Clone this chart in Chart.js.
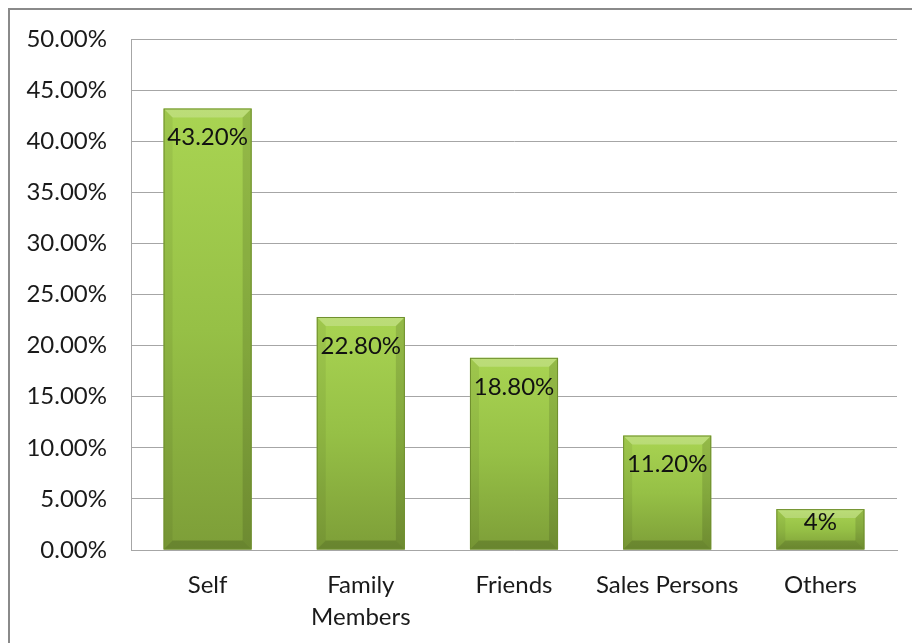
<!DOCTYPE html>
<html>
<head>
<meta charset="utf-8">
<script src="https://cdn.jsdelivr.net/npm/chart.js@4/dist/chart.umd.min.js"></script>
<style>
  body { margin: 0; background: #fff; }
  #frame { position: absolute; left: 8px; top: 8px; width: 930px; height: 660px; border: 2px solid #8a8a8a; }
  #wrap { position: absolute; left: 0; top: 0; width: 912px; height: 643px; }
</style>
</head>
<body>
<div id="frame"></div>
<div id="wrap"><canvas id="chart" width="912" height="643"></canvas></div>
<script>
const categories = ['Self', ['Family', 'Members'], 'Friends', 'Sales Persons', 'Others'];
const shares = [43.2, 22.8, 18.8, 11.2, 4];
const shareLabels = ['43.20%', '22.80%', '18.80%', '11.20%', '4%'];

const FONT = 'Lato, "Open Sans", sans-serif';

// bevel look on each bar, then the value label near its top
const bevelPlugin = {
    id: 'bevel',
    afterDatasetsDraw(chart) {
        const ctx = chart.ctx;
        const meta = chart.getDatasetMeta(0);
        meta.data.forEach((bar, i) => {
            const l = bar.x - bar.width / 2, r = bar.x + bar.width / 2;
            const t = bar.y, btm = bar.base;
            const b = Math.min(9, (btm - t) / 3);
            ctx.save();
            ctx.fillStyle = 'rgba(255,255,255,0.22)';
            ctx.beginPath();
            ctx.moveTo(l, t); ctx.lineTo(r, t); ctx.lineTo(r - b, t + b); ctx.lineTo(l + b, t + b);
            ctx.closePath(); ctx.fill();
            ctx.fillStyle = 'rgba(0,0,0,0.06)';
            ctx.beginPath();
            ctx.moveTo(l, t); ctx.lineTo(l + b, t + b); ctx.lineTo(l + b, btm - b); ctx.lineTo(l, btm);
            ctx.closePath(); ctx.fill();
            ctx.fillStyle = 'rgba(0,0,0,0.12)';
            ctx.beginPath();
            ctx.moveTo(r, t); ctx.lineTo(r - b, t + b); ctx.lineTo(r - b, btm - b); ctx.lineTo(r, btm);
            ctx.closePath(); ctx.fill();
            ctx.fillStyle = 'rgba(0,0,0,0.16)';
            ctx.beginPath();
            ctx.moveTo(l, btm); ctx.lineTo(l + b, btm - b); ctx.lineTo(r - b, btm - b); ctx.lineTo(r, btm);
            ctx.closePath(); ctx.fill();
            ctx.strokeStyle = '#6f8f2e';
            ctx.lineWidth = 1;
            ctx.strokeRect(l + 0.5, t + 0.5, r - l - 1, btm - t - 1);

            const h = btm - t;
            const cy = t + Math.min(29, h - 27);
            ctx.fillStyle = '#111';
            ctx.font = '24px ' + FONT;
            ctx.textAlign = 'center';
            ctx.textBaseline = 'middle';
            ctx.fillText(shareLabels[i], bar.x, cy);
            ctx.restore();
        });
    }
};

const ctx = document.getElementById('chart').getContext('2d');
new Chart(ctx, {
    type: 'bar',
    data: {
        labels: categories,
        datasets: [{
            data: shares,
            backgroundColor: function (context) {
                const chart = context.chart;
                const area = chart.chartArea;
                if (!area) return '#94bb46';
                const y = chart.scales.y;
                const top = y.getPixelForValue(context.raw);
                const g = chart.ctx.createLinearGradient(0, top, 0, y.getPixelForValue(0));
                g.addColorStop(0, '#a9d452');
                g.addColorStop(0.5, '#96c046');
                g.addColorStop(1, '#7d9e38');
                return g;
            },
            borderWidth: 0,
            categoryPercentage: 1,
            barPercentage: 0.575
        }]
    },
    options: {
        responsive: false,
        animation: false,
        layout: { padding: { left: 0, top: 39, right: 15, bottom: 0 } },
        plugins: {
            legend: { display: false },
            tooltip: { enabled: false }
        },
        scales: {
            y: {
                min: 0,
                max: 50,
                ticks: {
                    stepSize: 5,
                    padding: 24,
                    color: '#1a1a1a',
                    font: { family: FONT, size: 24 },
                    callback: v => v.toFixed(2) + '%'
                },
                grid: { color: '#a6a6a6', drawTicks: false },
                border: { color: '#a6a6a6' },
                afterFit: scale => { scale.width = 131; }
            },
            x: {
                ticks: {
                    padding: 20,
                    color: '#1a1a1a',
                    maxRotation: 0,
                    autoSkip: false,
                    font: { family: FONT, size: 24, lineHeight: 1.3 }
                },
                grid: { display: false, drawTicks: false },
                border: { color: '#a6a6a6' },
                afterFit: scale => { scale.height = 93; }
            }
        }
    },
    plugins: [bevelPlugin]
});
</script>
</body>
</html>
